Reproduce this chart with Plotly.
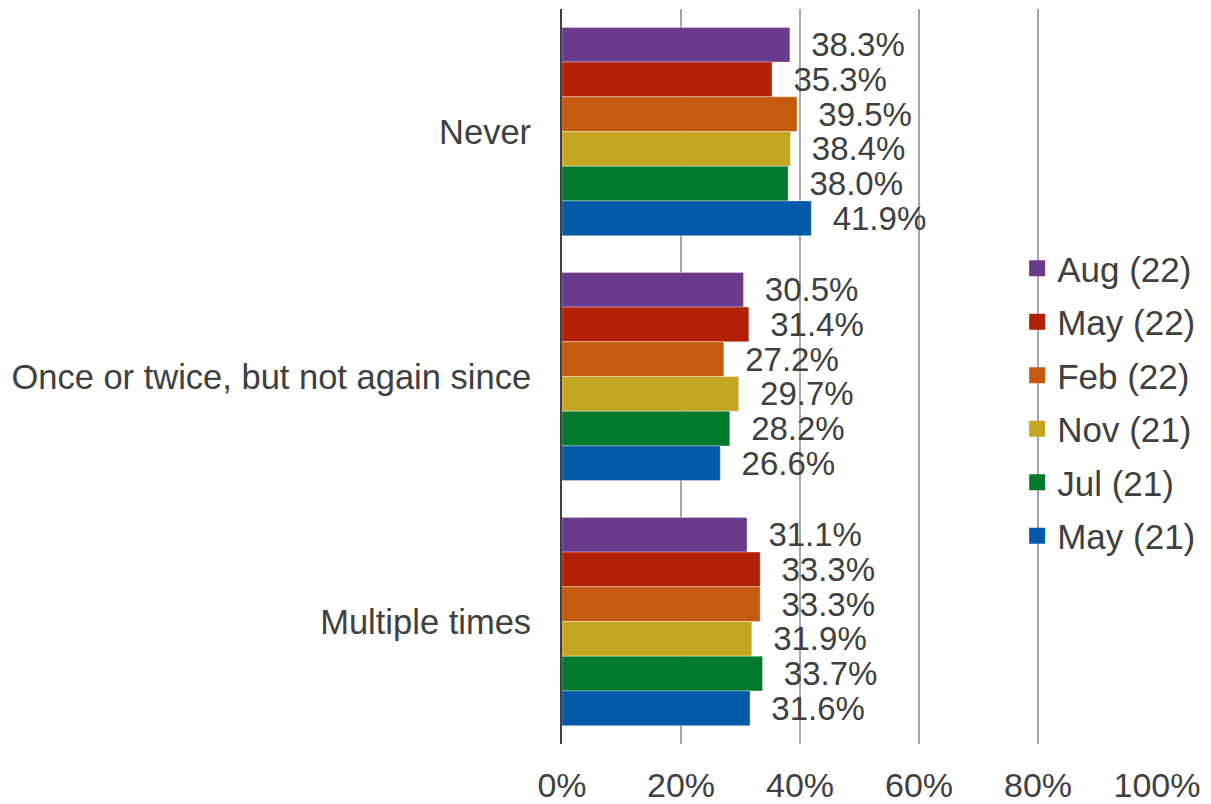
import plotly.graph_objects as go

categories = ["Never", "Once or twice, but not again since", "Multiple times"]
series_names = ["Aug (22)", "May (22)", "Feb (22)", "Nov (21)", "Jul (21)", "May (21)"]
aug_22 = [38.3, 30.5, 31.1]
may_22 = [35.3, 31.4, 33.3]
feb_22 = [39.5, 27.2, 33.3]
nov_21 = [38.4, 29.7, 31.9]
jul_21 = [38.0, 28.2, 33.7]
may_21 = [41.9, 26.6, 31.6]
x_ticks = [0, 20, 40, 60, 80, 100]
x_tick_labels = ["0%", "20%", "40%", "60%", "80%", "100%"]

series_values = [aug_22, may_22, feb_22, nov_21, jul_21, may_21]
colors = ["#6A3A8C", "#B22008", "#C55B10", "#C4A623", "#02792C", "#0459A9"]

FONT = "Liberation Sans, Arial, sans-serif"
TEXT = "#404040"

fig = go.Figure()
for name, vals, col in zip(series_names, series_values, colors):
    fig.add_trace(go.Bar(
        y=categories, x=vals, orientation="h", name=name,
        marker=dict(color=col, line=dict(color="rgba(255,255,255,0.35)", width=1)),
        text=[f"{v:.1f}%" for v in vals],
        texttemplate="  %{text}",
        textposition="outside",
        constraintext="none",
        cliponaxis=False,
        textfont=dict(family=FONT, size=33, color=TEXT),
        showlegend=False,
    ))
    # square legend swatch
    fig.add_trace(go.Scatter(
        x=[None], y=[None], mode="markers", name=name,
        marker=dict(symbol="square", size=16, color=col),
        legendgroup=name, showlegend=True,
    ))

fig.update_layout(
    width=1211, height=804,
    margin=dict(l=562, r=54, t=9, b=60),
    paper_bgcolor="white", plot_bgcolor="white",
    barmode="group", bargap=0.15, bargroupgap=0,
    font=dict(family=FONT, size=34, color=TEXT),
    legend=dict(
        x=0.765, y=0.687, xanchor="left", yanchor="top",
        bgcolor="rgba(0,0,0,0)", font=dict(family=FONT, size=35, color=TEXT),
        tracegroupgap=5, itemwidth=30,
    ),
)
fig.update_xaxes(
    range=[0, 100], tickvals=x_ticks, ticktext=x_tick_labels,
    showgrid=True, gridcolor="#A6A6A6", gridwidth=2,
    zeroline=False, showline=False, ticks="", ticklabelstandoff=18,
    automargin=False,
    tickfont=dict(family=FONT, size=34, color=TEXT),
)
fig.update_yaxes(
    autorange="reversed", showgrid=False, zeroline=False,
    showline=True, linecolor="#404040", linewidth=2,
    ticks="", ticklabelstandoff=22, automargin=False,
    tickfont=dict(family=FONT, size=34.5, color=TEXT),
)

fig.write_html("out.html")
